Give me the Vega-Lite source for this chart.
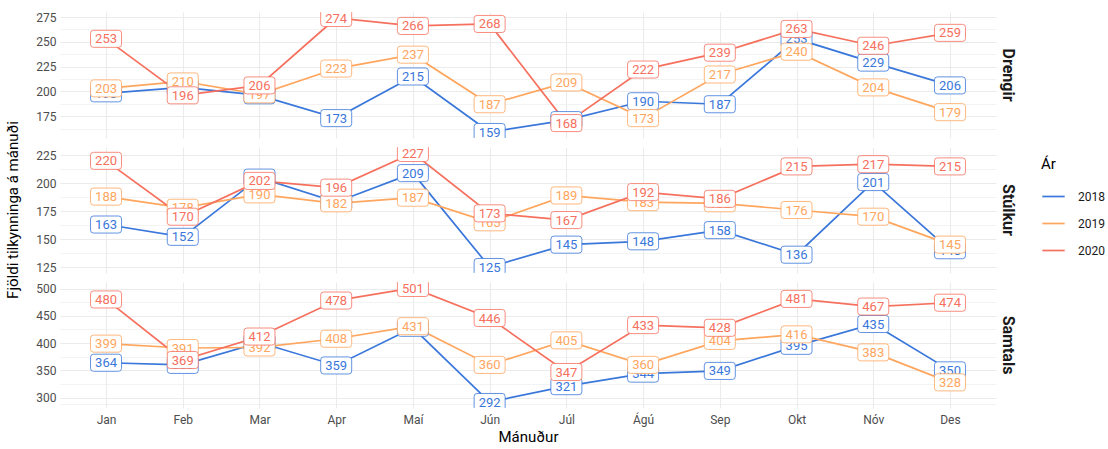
{
  "$schema": "https://vega.github.io/schema/vega-lite/v6.json",
  "padding": {"left": 5, "top": 11, "right": 5, "bottom": 3},
  "data": {"values": [
    {"kyn":"Drengir","man":"Jan","ar":"2018","n":198},{"kyn":"Drengir","man":"Feb","ar":"2018","n":204},{"kyn":"Drengir","man":"Mar","ar":"2018","n":196},{"kyn":"Drengir","man":"Apr","ar":"2018","n":173},{"kyn":"Drengir","man":"Maí","ar":"2018","n":215},{"kyn":"Drengir","man":"Jún","ar":"2018","n":159},{"kyn":"Drengir","man":"Júl","ar":"2018","n":171},{"kyn":"Drengir","man":"Ágú","ar":"2018","n":190},{"kyn":"Drengir","man":"Sep","ar":"2018","n":187},{"kyn":"Drengir","man":"Okt","ar":"2018","n":253},{"kyn":"Drengir","man":"Nóv","ar":"2018","n":229},{"kyn":"Drengir","man":"Des","ar":"2018","n":206},
    {"kyn":"Drengir","man":"Jan","ar":"2019","n":203},{"kyn":"Drengir","man":"Feb","ar":"2019","n":210},{"kyn":"Drengir","man":"Mar","ar":"2019","n":197},{"kyn":"Drengir","man":"Apr","ar":"2019","n":223},{"kyn":"Drengir","man":"Maí","ar":"2019","n":237},{"kyn":"Drengir","man":"Jún","ar":"2019","n":187},{"kyn":"Drengir","man":"Júl","ar":"2019","n":209},{"kyn":"Drengir","man":"Ágú","ar":"2019","n":173},{"kyn":"Drengir","man":"Sep","ar":"2019","n":217},{"kyn":"Drengir","man":"Okt","ar":"2019","n":240},{"kyn":"Drengir","man":"Nóv","ar":"2019","n":204},{"kyn":"Drengir","man":"Des","ar":"2019","n":179},
    {"kyn":"Drengir","man":"Jan","ar":"2020","n":253},{"kyn":"Drengir","man":"Feb","ar":"2020","n":196},{"kyn":"Drengir","man":"Mar","ar":"2020","n":206},{"kyn":"Drengir","man":"Apr","ar":"2020","n":274},{"kyn":"Drengir","man":"Maí","ar":"2020","n":266},{"kyn":"Drengir","man":"Jún","ar":"2020","n":268},{"kyn":"Drengir","man":"Júl","ar":"2020","n":168},{"kyn":"Drengir","man":"Ágú","ar":"2020","n":222},{"kyn":"Drengir","man":"Sep","ar":"2020","n":239},{"kyn":"Drengir","man":"Okt","ar":"2020","n":263},{"kyn":"Drengir","man":"Nóv","ar":"2020","n":246},{"kyn":"Drengir","man":"Des","ar":"2020","n":259},
    {"kyn":"Stúlkur","man":"Jan","ar":"2018","n":163},{"kyn":"Stúlkur","man":"Feb","ar":"2018","n":152},{"kyn":"Stúlkur","man":"Mar","ar":"2018","n":205},{"kyn":"Stúlkur","man":"Apr","ar":"2018","n":183},{"kyn":"Stúlkur","man":"Maí","ar":"2018","n":209},{"kyn":"Stúlkur","man":"Jún","ar":"2018","n":125},{"kyn":"Stúlkur","man":"Júl","ar":"2018","n":145},{"kyn":"Stúlkur","man":"Ágú","ar":"2018","n":148},{"kyn":"Stúlkur","man":"Sep","ar":"2018","n":158},{"kyn":"Stúlkur","man":"Okt","ar":"2018","n":136},{"kyn":"Stúlkur","man":"Nóv","ar":"2018","n":201},{"kyn":"Stúlkur","man":"Des","ar":"2018","n":140},
    {"kyn":"Stúlkur","man":"Jan","ar":"2019","n":188},{"kyn":"Stúlkur","man":"Feb","ar":"2019","n":178},{"kyn":"Stúlkur","man":"Mar","ar":"2019","n":190},{"kyn":"Stúlkur","man":"Apr","ar":"2019","n":182},{"kyn":"Stúlkur","man":"Maí","ar":"2019","n":187},{"kyn":"Stúlkur","man":"Jún","ar":"2019","n":165},{"kyn":"Stúlkur","man":"Júl","ar":"2019","n":189},{"kyn":"Stúlkur","man":"Ágú","ar":"2019","n":183},{"kyn":"Stúlkur","man":"Sep","ar":"2019","n":182},{"kyn":"Stúlkur","man":"Okt","ar":"2019","n":176},{"kyn":"Stúlkur","man":"Nóv","ar":"2019","n":170},{"kyn":"Stúlkur","man":"Des","ar":"2019","n":145},
    {"kyn":"Stúlkur","man":"Jan","ar":"2020","n":220},{"kyn":"Stúlkur","man":"Feb","ar":"2020","n":170},{"kyn":"Stúlkur","man":"Mar","ar":"2020","n":202},{"kyn":"Stúlkur","man":"Apr","ar":"2020","n":196},{"kyn":"Stúlkur","man":"Maí","ar":"2020","n":227},{"kyn":"Stúlkur","man":"Jún","ar":"2020","n":173},{"kyn":"Stúlkur","man":"Júl","ar":"2020","n":167},{"kyn":"Stúlkur","man":"Ágú","ar":"2020","n":192},{"kyn":"Stúlkur","man":"Sep","ar":"2020","n":186},{"kyn":"Stúlkur","man":"Okt","ar":"2020","n":215},{"kyn":"Stúlkur","man":"Nóv","ar":"2020","n":217},{"kyn":"Stúlkur","man":"Des","ar":"2020","n":215},
    {"kyn":"Samtals","man":"Jan","ar":"2018","n":364},{"kyn":"Samtals","man":"Feb","ar":"2018","n":360},{"kyn":"Samtals","man":"Mar","ar":"2018","n":401},{"kyn":"Samtals","man":"Apr","ar":"2018","n":359},{"kyn":"Samtals","man":"Maí","ar":"2018","n":428},{"kyn":"Samtals","man":"Jún","ar":"2018","n":292},{"kyn":"Samtals","man":"Júl","ar":"2018","n":321},{"kyn":"Samtals","man":"Ágú","ar":"2018","n":344},{"kyn":"Samtals","man":"Sep","ar":"2018","n":349},{"kyn":"Samtals","man":"Okt","ar":"2018","n":395},{"kyn":"Samtals","man":"Nóv","ar":"2018","n":435},{"kyn":"Samtals","man":"Des","ar":"2018","n":350},
    {"kyn":"Samtals","man":"Jan","ar":"2019","n":399},{"kyn":"Samtals","man":"Feb","ar":"2019","n":391},{"kyn":"Samtals","man":"Mar","ar":"2019","n":392},{"kyn":"Samtals","man":"Apr","ar":"2019","n":408},{"kyn":"Samtals","man":"Maí","ar":"2019","n":431},{"kyn":"Samtals","man":"Jún","ar":"2019","n":360},{"kyn":"Samtals","man":"Júl","ar":"2019","n":405},{"kyn":"Samtals","man":"Ágú","ar":"2019","n":360},{"kyn":"Samtals","man":"Sep","ar":"2019","n":404},{"kyn":"Samtals","man":"Okt","ar":"2019","n":416},{"kyn":"Samtals","man":"Nóv","ar":"2019","n":383},{"kyn":"Samtals","man":"Des","ar":"2019","n":328},
    {"kyn":"Samtals","man":"Jan","ar":"2020","n":480},{"kyn":"Samtals","man":"Feb","ar":"2020","n":369},{"kyn":"Samtals","man":"Mar","ar":"2020","n":412},{"kyn":"Samtals","man":"Apr","ar":"2020","n":478},{"kyn":"Samtals","man":"Maí","ar":"2020","n":501},{"kyn":"Samtals","man":"Jún","ar":"2020","n":446},{"kyn":"Samtals","man":"Júl","ar":"2020","n":347},{"kyn":"Samtals","man":"Ágú","ar":"2020","n":433},{"kyn":"Samtals","man":"Sep","ar":"2020","n":428},{"kyn":"Samtals","man":"Okt","ar":"2020","n":481},{"kyn":"Samtals","man":"Nóv","ar":"2020","n":467},{"kyn":"Samtals","man":"Des","ar":"2020","n":474}
  ]},
  "facet": {
    "row": {
      "field": "kyn", "type": "nominal",
      "sort": ["Drengir", "Stúlkur", "Samtals"],
      "title": "Fjöldi tilkynninga á mánuði",
      "header": {
        "labelOrient": "right", "labelAngle": 90, "labelAlign": "center", "labelBaseline": "top",
        "labelFont": "Roboto", "labelFontSize": 16, "labelFontWeight": "bold", "labelColor": "#1A1A1A", "labelPadding": 4,
        "titleOrient": "left", "titleFont": "Roboto", "titleFontSize": 15, "titleFontWeight": "normal", "titleColor": "#000000", "titlePadding": 4
      }
    }
  },
  "spacing": 9,
  "resolve": {"scale": {"y": "independent"}},
  "spec": {
    "width": 936,
    "height": 126,
    "encoding": {
      "x": {
        "field": "man", "type": "ordinal",
        "sort": ["Jan","Feb","Mar","Apr","Maí","Jún","Júl","Ágú","Sep","Okt","Nóv","Des"],
        "scale": {"type": "point", "padding": 0.6},
        "axis": {"title": "Mánuður", "labelAngle": 0, "grid": true, "gridColor": "#EBEBEB", "gridWidth": 1.1, "labelPadding": 6}
      },
      "y": {
        "field": "n", "type": "quantitative",
        "scale": {"zero": false, "nice": false, "padding": 6},
        "axis": {
          "title": null, "tickCount": 100,
          "values": [112.5,125,137.5,150,162.5,175,187.5,200,212.5,225,237.5,250,262.5,275,287.5,300,325,350,375,400,425,450,475,500,525],
          "labelExpr": "((datum.value < 290 && datum.value % 25 == 0) || datum.value % 50 == 0) ? datum.label : ''",
          "gridColor": "#EBEBEB",
          "gridWidth": {"condition": {"test": "(datum.value < 290 && datum.value % 25 == 0) || datum.value % 50 == 0", "value": 1.1}, "value": 0.6},
          "labelPadding": 4
        }
      }
    },
    "layer": [
      {
        "mark": {"type": "line", "strokeWidth": 1.7, "clip": true},
        "encoding": {
          "color": {
            "field": "ar", "type": "nominal", "title": "Ár",
            "scale": {"domain": ["2018","2019","2020"], "range": ["#3A77DB","#FFA65E","#F6705E"]},
            "legend": {"symbolType": "stroke", "symbolSize": 500, "symbolStrokeWidth": 1.7, "labelOffset": 12, "orient": "none", "legendX": 981, "legendY": 145, "rowPadding": 8}
          }
        }
      },
      {
        "transform": [{"filter": "datum.ar == '2018'"}],
        "mark": {"type": "point", "clip": true, "shape": "M-0.81,-0.55 L0.81,-0.55 Q1,-0.55 1,-0.36 L1,0.36 Q1,0.55 0.81,0.55 L-0.81,0.55 Q-1,0.55 -1,0.36 L-1,-0.36 Q-1,-0.55 -0.81,-0.55 Z", "size": 961, "filled": false, "fill": "#FFFFFF", "fillOpacity": 1, "opacity": 1, "strokeWidth": 0.8},
        "encoding": {"stroke": {"field": "ar", "type": "nominal", "scale": {"domain": ["2018","2019","2020"], "range": ["#3A77DB","#FFA65E","#F6705E"]}, "legend": null}}
      },
      {
        "transform": [{"filter": "datum.ar == '2018'"}],
        "mark": {"type": "text", "clip": true, "font": "Roboto", "fontSize": 13, "baseline": "middle", "align": "center", "dy": 0.5},
        "encoding": {"text": {"field": "n", "type": "quantitative"}, "fill": {"field": "ar", "type": "nominal", "scale": {"domain": ["2018","2019","2020"], "range": ["#3A77DB","#FFA65E","#F6705E"]}, "legend": null}}
      },
      {
        "transform": [{"filter": "datum.ar == '2019'"}],
        "mark": {"type": "point", "clip": true, "shape": "M-0.81,-0.55 L0.81,-0.55 Q1,-0.55 1,-0.36 L1,0.36 Q1,0.55 0.81,0.55 L-0.81,0.55 Q-1,0.55 -1,0.36 L-1,-0.36 Q-1,-0.55 -0.81,-0.55 Z", "size": 961, "filled": false, "fill": "#FFFFFF", "fillOpacity": 1, "opacity": 1, "strokeWidth": 0.8},
        "encoding": {"stroke": {"field": "ar", "type": "nominal", "scale": {"domain": ["2018","2019","2020"], "range": ["#3A77DB","#FFA65E","#F6705E"]}, "legend": null}}
      },
      {
        "transform": [{"filter": "datum.ar == '2019'"}],
        "mark": {"type": "text", "clip": true, "font": "Roboto", "fontSize": 13, "baseline": "middle", "align": "center", "dy": 0.5},
        "encoding": {"text": {"field": "n", "type": "quantitative"}, "fill": {"field": "ar", "type": "nominal", "scale": {"domain": ["2018","2019","2020"], "range": ["#3A77DB","#FFA65E","#F6705E"]}, "legend": null}}
      },
      {
        "transform": [{"filter": "datum.ar == '2020'"}],
        "mark": {"type": "point", "clip": true, "shape": "M-0.81,-0.55 L0.81,-0.55 Q1,-0.55 1,-0.36 L1,0.36 Q1,0.55 0.81,0.55 L-0.81,0.55 Q-1,0.55 -1,0.36 L-1,-0.36 Q-1,-0.55 -0.81,-0.55 Z", "size": 961, "filled": false, "fill": "#FFFFFF", "fillOpacity": 1, "opacity": 1, "strokeWidth": 0.8},
        "encoding": {"stroke": {"field": "ar", "type": "nominal", "scale": {"domain": ["2018","2019","2020"], "range": ["#3A77DB","#FFA65E","#F6705E"]}, "legend": null}}
      },
      {
        "transform": [{"filter": "datum.ar == '2020'"}],
        "mark": {"type": "text", "clip": true, "font": "Roboto", "fontSize": 13, "baseline": "middle", "align": "center", "dy": 0.5},
        "encoding": {"text": {"field": "n", "type": "quantitative"}, "fill": {"field": "ar", "type": "nominal", "scale": {"domain": ["2018","2019","2020"], "range": ["#3A77DB","#FFA65E","#F6705E"]}, "legend": null}}
      }
    ]
  },
  "config": {
    "view": {"stroke": null},
    "font": "Roboto",
    "axis": {
      "labelFont": "Roboto", "labelFontSize": 12, "labelColor": "#4D4D4D",
      "ticks": false, "domain": false,
      "titleFont": "Roboto", "titleFontSize": 15, "titleFontWeight": "normal", "titleColor": "#000000"
    },
    "legend": {
      "titleFont": "Roboto", "titleFontSize": 15, "titleFontWeight": "normal", "titleColor": "#000000",
      "labelFont": "Roboto", "labelFontSize": 12, "labelColor": "#1A1A1A", "titlePadding": 12
    }
  }
}
